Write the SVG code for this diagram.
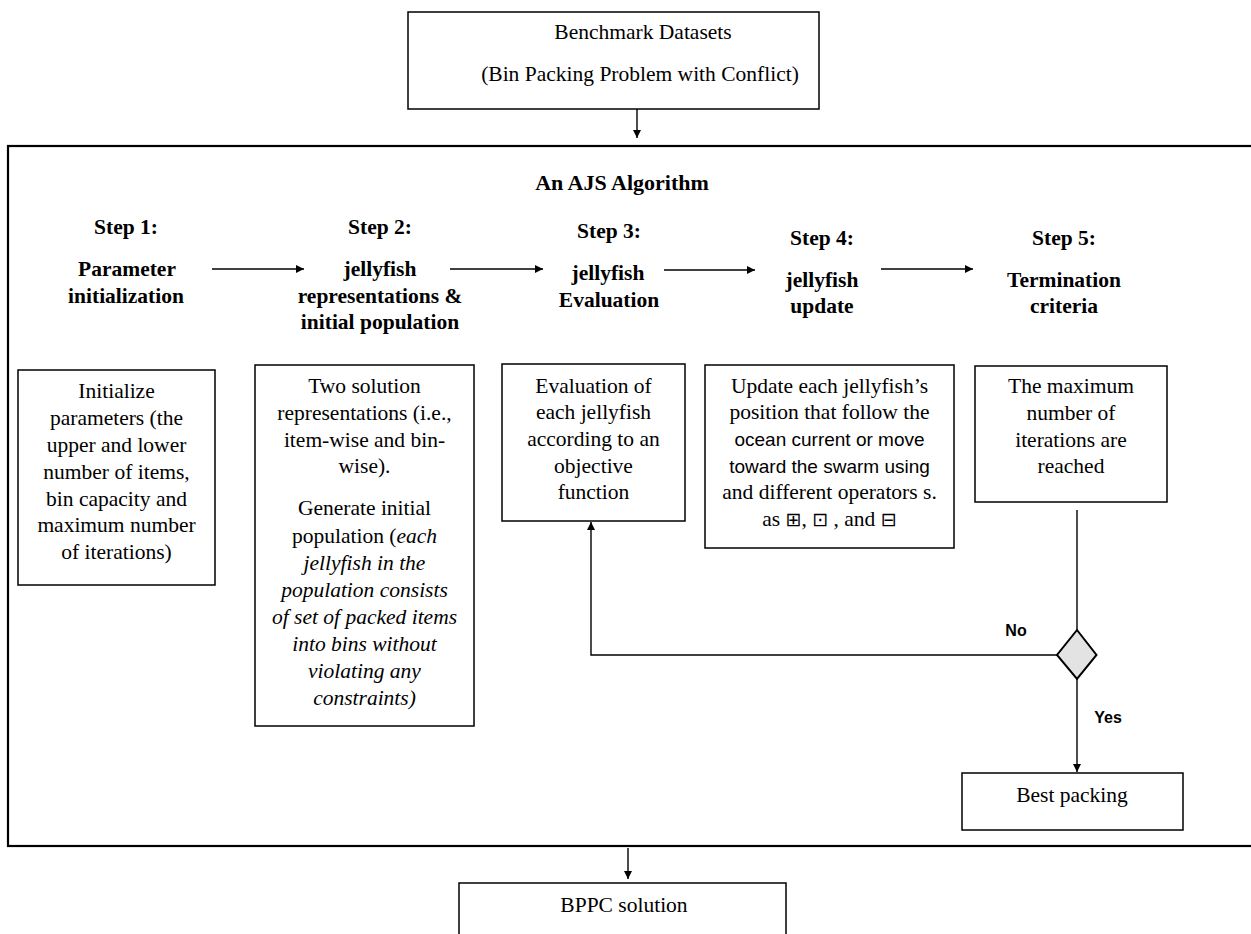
<svg xmlns="http://www.w3.org/2000/svg" width="1251" height="934" viewBox="0 0 1251 934">
<defs>
<style>
.box{fill:#fff;stroke:#000;stroke-width:1.5}
.t{font-family:"Liberation Serif","Times New Roman",serif;font-size:21.5px;fill:#000;text-anchor:middle}
.b{font-weight:bold}
.i{font-style:italic}
.s{font-family:"Liberation Sans",Arial,sans-serif;font-size:19px}
.sym{font-family:"DejaVu Sans",sans-serif;font-size:19px}
.lbl{font-family:"Liberation Sans",Arial,sans-serif;font-size:16px;font-weight:bold;fill:#000;text-anchor:middle}
.ln{fill:none;stroke:#000;stroke-width:1.4}
</style>
<marker id="ah" viewBox="0 0 10 10" refX="10" refY="5" markerWidth="8" markerHeight="8" markerUnits="userSpaceOnUse" orient="auto">
<path d="M0,0 L10,5 L0,10 z" fill="#000"/>
</marker>
</defs>
<rect width="1251" height="934" fill="#fff"/>

<g id="frame">
<rect x="8" y="146" width="1256" height="700" fill="none" stroke="#000" stroke-width="2.2"/>
<text class="t b" x="622" y="190" style="font-size:22px">An AJS Algorithm</text>
</g>

<g id="benchmark">
<rect class="box" x="408" y="12" width="411" height="97"/>
<text class="t" x="643" y="39">Benchmark Datasets</text>
<text class="t" x="640" y="81">(Bin Packing Problem with Conflict)</text>
</g>

<g id="step1">
<text class="t b" x="126" y="234">Step 1:</text>
<text class="t b" x="127" y="276">Parameter</text>
<text class="t b" x="126" y="303">initialization</text>
</g>
<g id="step2">
<text class="t b" x="380" y="234">Step 2:</text>
<text class="t b" x="380" y="276">jellyfish</text>
<text class="t b" x="380" y="303">representations &amp;</text>
<text class="t b" x="380" y="329">initial population</text>
</g>
<g id="step3">
<text class="t b" x="609" y="238">Step 3:</text>
<text class="t b" x="608" y="280">jellyfish</text>
<text class="t b" x="609" y="307">Evaluation</text>
</g>
<g id="step4">
<text class="t b" x="822" y="245">Step 4:</text>
<text class="t b" x="822" y="287">jellyfish</text>
<text class="t b" x="822" y="313">update</text>
</g>
<g id="step5">
<text class="t b" x="1064" y="245">Step 5:</text>
<text class="t b" x="1064" y="287">Termination</text>
<text class="t b" x="1064" y="313">criteria</text>
</g>

<g id="box1">
<rect class="box" x="18" y="370" width="197" height="215"/>
<text class="t" x="116.5" y="398">Initialize</text>
<text class="t" x="116.5" y="425">parameters (the</text>
<text class="t" x="116.5" y="452">upper and lower</text>
<text class="t" x="116.5" y="479">number of items,</text>
<text class="t" x="116.5" y="506">bin capacity and</text>
<text class="t" x="116.5" y="532">maximum number</text>
<text class="t" x="116.5" y="559">of iterations)</text>
</g>

<g id="box2">
<rect class="box" x="255" y="365" width="219" height="361"/>
<text class="t" x="364.5" y="393">Two solution</text>
<text class="t" x="364.5" y="420">representations (i.e.,</text>
<text class="t" x="364.5" y="447">item-wise and bin-</text>
<text class="t" x="364.5" y="473">wise).</text>
<text class="t" x="364.5" y="515">Generate initial</text>
<text class="t" x="364.5" y="543">population (<tspan class="i">each</tspan></text>
<text class="t i" x="364.5" y="570">jellyfish in the</text>
<text class="t i" x="364.5" y="597">population consists</text>
<text class="t i" x="364.5" y="624">of set of packed items</text>
<text class="t i" x="364.5" y="651">into bins without</text>
<text class="t i" x="364.5" y="678">violating any</text>
<text class="t i" x="364.5" y="705">constraints)</text>
</g>

<g id="box3">
<rect class="box" x="502" y="364" width="183" height="157"/>
<text class="t" x="593.5" y="393">Evaluation of</text>
<text class="t" x="593.5" y="419">each jellyfish</text>
<text class="t" x="593.5" y="446">according to an</text>
<text class="t" x="593.5" y="473">objective</text>
<text class="t" x="593.5" y="499">function</text>
</g>

<g id="box4">
<rect class="box" x="705" y="365" width="249" height="183"/>
<text class="t" x="829.5" y="393">Update each jellyfish’s</text>
<text class="t" x="829.5" y="419">position that follow the</text>
<text class="t s" x="829.5" y="446">ocean current or move</text>
<text class="t s" x="829.5" y="473">toward the swarm using</text>
<text class="t" x="829.5" y="499">and different operators s.</text>
<text class="t" x="829.5" y="526">as <tspan class="sym">⊞</tspan>, <tspan class="sym">⊡</tspan> , and <tspan class="sym">⊟</tspan></text>
</g>

<g id="box5">
<rect class="box" x="975" y="366" width="192" height="136"/>
<text class="t" x="1071" y="393">The maximum</text>
<text class="t" x="1071" y="420">number of</text>
<text class="t" x="1071" y="447">iterations are</text>
<text class="t" x="1071" y="473">reached</text>
</g>

<g id="decision">
<polygon points="1077,630 1096.5,655 1077,679 1057,655" fill="#e3e3e3" stroke="#000" stroke-width="2"/>
</g>

<g id="best">
<rect class="box" x="962" y="773" width="221" height="57"/>
<text class="t" x="1072" y="802">Best packing</text>
</g>

<g id="bppc">
<rect class="box" x="459" y="883" width="327" height="80"/>
<text class="t" x="624" y="912">BPPC solution</text>
</g>

<g id="connectors">
<line class="ln" x1="637" y1="109" x2="637" y2="138" marker-end="url(#ah)"/>
<line class="ln" x1="212" y1="269" x2="304" y2="269" marker-end="url(#ah)"/>
<line class="ln" x1="450" y1="269" x2="543" y2="269" marker-end="url(#ah)"/>
<line class="ln" x1="664" y1="270" x2="755" y2="270" marker-end="url(#ah)"/>
<line class="ln" x1="881" y1="269" x2="973" y2="269" marker-end="url(#ah)"/>
<line class="ln" x1="1077" y1="510" x2="1077" y2="630"/>
<polyline class="ln" points="1057,655 591,655 591,522" marker-end="url(#ah)"/>
<line class="ln" x1="1077" y1="679" x2="1077" y2="772" marker-end="url(#ah)"/>
<line class="ln" x1="628" y1="848" x2="628" y2="879" marker-end="url(#ah)"/>
<text class="lbl" x="1016" y="636">No</text>
<text class="lbl" x="1108" y="723">Yes</text>
</g>
</svg>
